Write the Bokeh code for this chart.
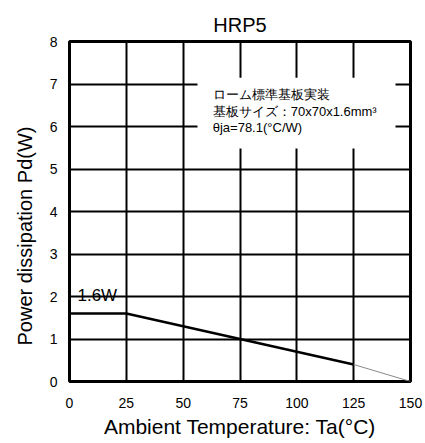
from bokeh.plotting import figure
from bokeh.models import Range1d, FixedTicker, BoxAnnotation, Label, Title
from bokeh.embed import file_html
from bokeh.resources import INLINE

title_text = "HRP5"
x_label = "Ambient Temperature: Ta(°C)"
y_label = "Power dissipation Pd(W)"
x_ticks = [0, 25, 50, 75, 100, 125, 150]
y_ticks = [0, 1, 2, 3, 4, 5, 6, 7, 8]

# derating curve (solid, thick)
ta_main = [0, 25, 125]
pd_main = [1.6, 1.6, 0.4]
# extension (thin gray)
ta_ext = [125, 150]
pd_ext = [0.4, 0.0]

note_lines = ["ローム標準基板実装", "基板サイズ：70x70x1.6mm³", "θja=78.1(°C/W)"]
note_y = [6.75, 6.35, 5.98]
note_x = 63
peak_label = "1.6W"

FONT = "Liberation Sans"

p = figure(width=425, height=443, output_backend="svg", toolbar_location=None,
           x_range=Range1d(0, 150), y_range=Range1d(0, 8),
           min_border_left=69, min_border_right=15, min_border_top=41, min_border_bottom=62)
p.title.text = title_text
p.title.align = "center"
p.title.text_font = FONT
p.title.text_font_size = "20px"
p.title.text_font_style = "normal"
p.title.text_color = "black"
p.title.standoff = 12

p.outline_line_color = "black"
p.outline_line_width = 3
p.outline_line_alpha = 1

for ax in (p.xaxis[0], p.yaxis[0]):
    ax.axis_line_color = None
    ax.major_tick_line_color = None
    ax.minor_tick_line_color = None
    ax.major_tick_out = 0
    ax.major_tick_in = 0
    ax.minor_tick_out = 0
    ax.major_label_text_font = FONT
    ax.major_label_text_font_size = "14px"
    ax.major_label_text_color = "black"
    ax.axis_label_text_font = FONT
    ax.axis_label_text_font_style = "normal"
    ax.axis_label_text_color = "black"

p.xaxis.axis_label_text_font_size = "21px"
p.xaxis.ticker = FixedTicker(ticks=x_ticks)
p.yaxis.ticker = FixedTicker(ticks=y_ticks)
p.xaxis.axis_label = x_label
p.xaxis.major_label_standoff = 16
p.xaxis.axis_label_standoff = 4
p.yaxis.major_label_standoff = 12

# y axis title, as a side title so it can sit a little below the frame centre
p.add_layout(Title(text=y_label, align="left", offset=36, vertical_align="bottom",
                   standoff=22, text_font=FONT, text_font_size="20px",
                   text_font_style="normal", text_color="black"), "left")

p.xgrid.ticker = FixedTicker(ticks=x_ticks)
p.ygrid.ticker = FixedTicker(ticks=y_ticks)
for g in (p.xgrid[0], p.ygrid[0]):
    g.grid_line_color = "black"
    g.grid_line_width = 2
    g.grid_line_alpha = 1

p.line(ta_main, pd_main, line_color="black", line_width=2.5)
p.line(ta_ext, pd_ext, line_color="#888888", line_width=1)

p.add_layout(BoxAnnotation(left=56.3, right=143.4, bottom=5.48, top=7.15,
                           fill_color="white", fill_alpha=1, line_color=None))

for txt, yy in zip(note_lines, note_y):
    p.add_layout(Label(x=note_x, y=yy, text=txt, text_font=FONT, text_font_size="13px",
                       text_baseline="middle", text_align="left", text_color="black"))

p.add_layout(Label(x=3.5, y=2.03, text=peak_label, text_font=FONT, text_font_size="17px",
                   text_baseline="middle", text_align="left", text_color="black"))

open("out.html", "w").write(file_html(p, INLINE))
